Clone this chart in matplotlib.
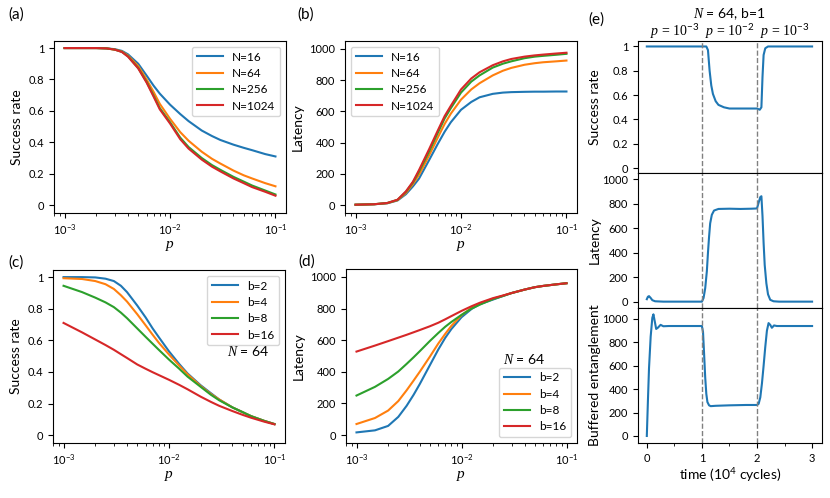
import numpy as np
import matplotlib
matplotlib.use('Agg')
import matplotlib.pyplot as plt
from matplotlib.ticker import MultipleLocator

plt.rcParams['font.family'] = ['Lato', 'DejaVu Sans']
plt.rcParams['mathtext.fontset'] = 'custom'
plt.rcParams['mathtext.rm'] = 'Lato'
plt.rcParams['mathtext.it'] = 'Liberation Serif:italic'
plt.rcParams['mathtext.bf'] = 'Lato:bold'
plt.rcParams['xtick.labelsize'] = 8
plt.rcParams['ytick.labelsize'] = 8

# error probability grid
p = [1e-3, 1.5e-3, 2e-3, 2.5e-3, 3e-3, 3.5e-3, 4e-3, 5e-3, 6e-3, 7e-3, 8e-3,
     1e-2, 1.25e-2, 1.5e-2, 2e-2, 2.5e-2, 3e-2, 4e-2, 5e-2, 6e-2, 8e-2, 1e-1]

# (a) success rate vs N
n_labels = ['N=16', 'N=64', 'N=256', 'N=1024']
succ_n16 = [1.0, 1.0, 1.0, 0.998, 0.993, 0.982, 0.96, 0.90, 0.825, 0.76, 0.71,
            0.64, 0.58, 0.535, 0.475, 0.44, 0.415, 0.385, 0.365, 0.35, 0.325, 0.31]
succ_n64 = [1.0, 1.0, 1.0, 0.998, 0.99, 0.978, 0.952, 0.885, 0.80, 0.72, 0.645,
            0.55, 0.465, 0.41, 0.34, 0.295, 0.265, 0.22, 0.19, 0.17, 0.14, 0.12]
succ_n256 = [1.0, 1.0, 1.0, 0.998, 0.99, 0.976, 0.947, 0.873, 0.785, 0.697, 0.618,
             0.528, 0.43, 0.37, 0.30, 0.255, 0.225, 0.18, 0.15, 0.125, 0.093, 0.068]
succ_n1024 = [1.0, 1.0, 1.0, 0.998, 0.99, 0.975, 0.945, 0.87, 0.78, 0.69, 0.61,
              0.52, 0.42, 0.36, 0.29, 0.245, 0.215, 0.17, 0.14, 0.115, 0.085, 0.06]

# (b) latency vs N
lat_n16 = [3, 6, 12, 30, 70, 120, 170, 290, 390, 470, 530,
           610, 660, 690, 712, 720, 723, 725, 726, 726, 727, 727]
lat_n64 = [3, 6, 13, 32, 78, 135, 195, 320, 430, 520, 585,
           675, 740, 780, 830, 860, 878, 898, 908, 914, 920, 925]
lat_n256 = [3, 6, 14, 34, 85, 145, 215, 345, 460, 555, 620,
            720, 790, 830, 880, 905, 920, 940, 950, 955, 962, 968]
lat_n1024 = [3, 6, 14, 35, 88, 150, 225, 360, 475, 570, 635,
             740, 810, 850, 895, 920, 935, 950, 958, 963, 970, 975]

# (c) success rate vs b, N=64
b_labels = ['b=2', 'b=4', 'b=8', 'b=16']
succ_b2 = [1.0, 1.0, 0.998, 0.99, 0.975, 0.945, 0.905, 0.82, 0.745, 0.675, 0.62,
           0.53, 0.45, 0.39, 0.315, 0.265, 0.225, 0.175, 0.145, 0.12, 0.09, 0.07]
succ_b4 = [0.993, 0.988, 0.975, 0.955, 0.925, 0.885, 0.845, 0.765, 0.695, 0.635, 0.585,
           0.51, 0.44, 0.385, 0.31, 0.26, 0.225, 0.175, 0.145, 0.12, 0.09, 0.07]
succ_b8 = [0.945, 0.905, 0.87, 0.84, 0.81, 0.775, 0.74, 0.675, 0.622, 0.578, 0.54,
           0.478, 0.42, 0.37, 0.305, 0.255, 0.22, 0.175, 0.145, 0.12, 0.09, 0.07]
succ_b16 = [0.71, 0.65, 0.605, 0.57, 0.54, 0.512, 0.488, 0.447, 0.42, 0.398, 0.38,
            0.35, 0.318, 0.29, 0.243, 0.21, 0.185, 0.152, 0.128, 0.11, 0.085, 0.068]

# (d) latency vs b, N=64
lat_b2 = [17, 30, 58, 115, 185, 255, 322, 442, 540, 615, 670,
          745, 798, 828, 857, 880, 898, 920, 935, 943, 953, 960]
lat_b4 = [70, 108, 155, 215, 283, 345, 400, 496, 578, 640, 690,
          758, 805, 832, 862, 882, 898, 920, 935, 943, 953, 960]
lat_b8 = [250, 305, 355, 402, 450, 492, 530, 595, 645, 685, 715,
          760, 800, 825, 860, 880, 898, 920, 935, 943, 953, 960]
lat_b16 = [528, 566, 594, 616, 634, 650, 664, 688, 710, 732, 752,
           785, 815, 837, 866, 883, 898, 920, 935, 943, 953, 960]

# (e) time traces, N=64, b=1 (time in 1e4 cycles)
t_succ = [0, 0.5, 1.0, 1.08, 1.11, 1.14, 1.17, 1.2, 1.25, 1.3, 1.4, 1.5, 1.7, 1.9,
          2.0, 2.05, 2.08, 2.1, 2.12, 2.15, 2.2, 2.5, 3.0]
e_succ = [1.0, 1.0, 1.0, 1.0, 0.97, 0.80, 0.68, 0.61, 0.55, 0.52, 0.50, 0.49, 0.49, 0.49,
          0.49, 0.48, 0.50, 0.75, 0.93, 0.985, 1.0, 1.0, 1.0]

t_lat = [0, 0.02, 0.04, 0.07, 0.1, 0.15, 0.3, 0.6, 0.9, 1.0, 1.03, 1.06, 1.09, 1.11,
         1.13, 1.15, 1.18, 1.22, 1.3, 1.5, 1.7, 1.9, 2.0, 2.03, 2.06, 2.08, 2.1,
         2.12, 2.14, 2.17, 2.2, 2.24, 2.3, 2.4, 2.6, 3.0]
e_lat = [20, 40, 45, 30, 12, 3, 0, 0, 0, 0, 30, 110, 250, 400,
         530, 640, 710, 745, 758, 760, 758, 760, 762, 810, 855, 862, 700,
         480, 300, 150, 60, 15, 3, 0, 0, 0]

t_buf = [0, 0.02, 0.04, 0.07, 0.1, 0.12, 0.14, 0.17, 0.2, 0.25, 0.3, 0.4, 0.7, 1.0,
         1.02, 1.04, 1.06, 1.08, 1.1, 1.13, 1.16, 1.25, 1.5, 1.8, 2.0, 2.03, 2.06,
         2.09, 2.12, 2.15, 2.18, 2.21, 2.24, 2.27, 2.31, 2.36, 2.6, 3.0]
e_buf = [0, 300, 580, 850, 1010, 1040, 990, 915, 925, 950, 938, 940, 940, 940,
         890, 700, 500, 360, 290, 262, 255, 258, 262, 265, 265, 275, 330,
         450, 600, 760, 900, 965, 950, 925, 945, 940, 940, 940]

W, H = 830, 498


def px(l, t, r, b):
    return [l / W, 1 - b / H, (r - l) / W, (b - t) / H]


fig = plt.figure(figsize=(W / 100, H / 100), dpi=100)

ax_a = fig.add_axes(px(54, 41, 286, 213))
ax_b = fig.add_axes(px(345, 41, 577, 213))
ax_c = fig.add_axes(px(53, 270, 285, 443))
ax_d = fig.add_axes(px(346, 269, 577, 443))
ax_e1 = fig.add_axes(px(638, 41, 822, 173))
ax_e2 = fig.add_axes(px(638, 173, 822, 308))
ax_e3 = fig.add_axes(px(638, 308, 822, 443))

for y, lab in zip([succ_n16, succ_n64, succ_n256, succ_n1024], n_labels):
    ax_a.plot(p, y, label=lab)
for y, lab in zip([lat_n16, lat_n64, lat_n256, lat_n1024], n_labels):
    ax_b.plot(p, y, label=lab)
for y, lab in zip([succ_b2, succ_b4, succ_b8, succ_b16], b_labels):
    ax_c.plot(p, y, label=lab)
for y, lab in zip([lat_b2, lat_b4, lat_b8, lat_b16], b_labels):
    ax_d.plot(p, y, label=lab)

sr_ticks = [0, 0.2, 0.4, 0.6, 0.8, 1]
sr_labels = ['0', '0.2', '0.4', '0.6', '0.8', '1']
for ax in [ax_a, ax_c]:
    ax.set_ylim(-0.05, 1.045)
    ax.set_yticks(sr_ticks)
    ax.set_yticklabels(sr_labels)
    ax.set_ylabel('Success rate', fontsize=10)
for ax in [ax_b, ax_d]:
    ax.set_ylim(-50, 1050)
    ax.set_yticks([0, 200, 400, 600, 800, 1000])
    ax.set_ylabel('Latency', fontsize=10)
for ax in [ax_a, ax_b, ax_c, ax_d]:
    ax.set_xscale('log')
    ax.set_xlabel('$p$', fontsize=11, labelpad=1)

leg_kw = dict(fontsize=8.5, handlelength=2.2, borderaxespad=0.5, labelspacing=0.45)
ax_a.legend(loc='upper right', **leg_kw)
ax_b.legend(loc='upper left', **leg_kw)
ax_c.legend(loc='upper right', **leg_kw)
ax_d.legend(loc='lower right', **leg_kw)
ax_c.text(0.84, 0.53, '$N$ = 64', transform=ax_c.transAxes, ha='center', va='center', fontsize=10)
ax_d.text(0.77, 0.48, '$N$ = 64', transform=ax_d.transAxes, ha='center', va='center', fontsize=10)

# (e)
ax_e1.plot(t_succ, e_succ, color='tab:blue')
ax_e2.plot(t_lat, e_lat, color='tab:blue')
ax_e3.plot(t_buf, e_buf, color='tab:blue')
ax_e1.set_ylim(-0.04, 1.045)
ax_e1.set_yticks(sr_ticks)
ax_e1.set_yticklabels(sr_labels)
ax_e2.set_ylim(-52, 1052)
ax_e2.set_yticks([0, 200, 400, 600, 800, 1000])
ax_e3.set_ylim(-60, 1094)
ax_e3.set_yticks([0, 200, 400, 600, 800, 1000])
ax_e1.set_ylabel('Success rate', fontsize=10)
ax_e2.set_ylabel('Latency', fontsize=10)
ax_e3.set_ylabel('Buffered entanglement', fontsize=10)
for ax in [ax_e1, ax_e2, ax_e3]:
    ax.set_xlim(-0.16, 3.18)
    ax.xaxis.set_major_locator(MultipleLocator(1))
    ax.xaxis.set_minor_locator(MultipleLocator(0.5))
    for xv in [1, 2]:
        ax.axvline(xv, color='gray', ls='--', lw=1)
for ax in [ax_e1, ax_e2]:
    ax.tick_params(axis='x', which='both', bottom=False, labelbottom=False)
ax_e3.set_xlabel('time (10$^4$ cycles)', fontsize=10, labelpad=2)
for ax in [ax_e1, ax_e2, ax_e3]:
    ax.yaxis.set_label_coords(-0.2, 0.5)

ax_e1.text(1.5, 1.205, '$N$ = 64, b=1', transform=ax_e1.get_xaxis_transform(),
           ha='center', va='center', fontsize=10)
for xc, lab in zip([0.5, 1.5, 2.5], ['$p$ = 10$^{-3}$', '$p$ = 10$^{-2}$', '$p$ = 10$^{-3}$']):
    ax_e1.text(xc, 1.07, lab, transform=ax_e1.get_xaxis_transform(), ha='center', va='center',
               fontsize=10, family=['Liberation Serif', 'DejaVu Sans'])

# panel labels
for x, y, lab in [(8, 15, '(a)'), (297, 15, '(b)'), (8, 263, '(c)'), (298, 262, '(d)'), (588, 20, '(e)')]:
    fig.text(x / W, 1 - y / H, lab, ha='left', va='center', fontsize=11)

fig.savefig('out.png', dpi=100)
